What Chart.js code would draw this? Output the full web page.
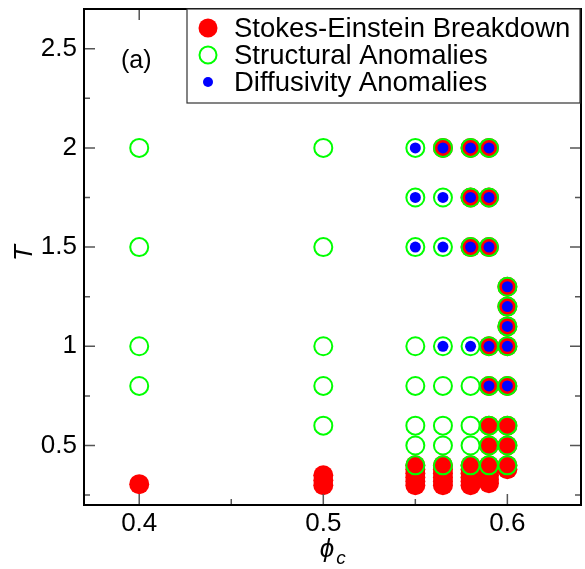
<!DOCTYPE html>
<html lang="en">
<head>
<meta charset="UTF-8">
<title>Anomaly map</title>
<style>
  body { margin: 0; background: #fff; }
  #wrap { width: 585px; height: 569px; }
</style>
</head>
<body>
<div id="wrap"><canvas id="chart"></canvas></div>
<script src="https://cdn.jsdelivr.net/npm/chart.js"></script>
<script>
// Stokes-Einstein breakdown (red filled circles)
const sePhi = [0.4,
  0.5, 0.5, 0.5,
  0.55, 0.55, 0.55, 0.55, 0.55, 0.55,
  0.565, 0.565, 0.565, 0.565, 0.565, 0.565, 0.565,
  0.58, 0.58, 0.58, 0.58, 0.58, 0.58, 0.58, 0.58, 0.58,
  0.59, 0.59, 0.59, 0.59, 0.59, 0.59, 0.59, 0.59, 0.59, 0.59, 0.59, 0.59, 0.59,
  0.6, 0.6, 0.6, 0.6, 0.6, 0.6, 0.6, 0.6, 0.6];
const seT = [0.305,
  0.3, 0.325, 0.35,
  0.3, 0.32, 0.34, 0.36, 0.38, 0.4,
  0.3, 0.32, 0.34, 0.36, 0.38, 0.4, 2.0,
  0.3, 0.32, 0.34, 0.36, 0.38, 0.4, 1.5, 1.75, 2.0,
  0.31, 0.33, 0.35, 0.37, 0.4, 0.5, 0.6, 0.8, 1.0, 1.5, 1.75, 2.0, 0.39,
  0.38, 0.4, 0.5, 0.6, 0.8, 1.0, 1.1, 1.2, 1.3];

// structural anomalies (green open circles)
const saPhi = [0.4, 0.4, 0.4, 0.4,
  0.5, 0.5, 0.5, 0.5, 0.5,
  0.55, 0.55, 0.55, 0.55, 0.55, 0.55, 0.55, 0.55,
  0.565, 0.565, 0.565, 0.565, 0.565, 0.565, 0.565, 0.565,
  0.58, 0.58, 0.58, 0.58, 0.58, 0.58, 0.58, 0.58,
  0.59, 0.59, 0.59, 0.59, 0.59, 0.59, 0.59, 0.59,
  0.6, 0.6, 0.6, 0.6, 0.6, 0.6, 0.6, 0.6];
const saT = [0.8, 1.0, 1.5, 2.0,
  0.6, 0.8, 1.0, 1.5, 2.0,
  0.4, 0.5, 0.6, 0.8, 1.0, 1.5, 1.75, 2.0,
  0.4, 0.5, 0.6, 0.8, 1.0, 1.5, 1.75, 2.0,
  0.4, 0.5, 0.6, 0.8, 1.0, 1.5, 1.75, 2.0,
  0.4, 0.5, 0.6, 0.8, 1.0, 1.5, 1.75, 2.0,
  0.4, 0.5, 0.6, 0.8, 1.0, 1.1, 1.2, 1.3];

// diffusivity anomalies (blue dots)
const daPhi = [0.55, 0.55, 0.55,
  0.565, 0.565, 0.565, 0.565,
  0.58, 0.58, 0.58, 0.58,
  0.59, 0.59, 0.59, 0.59, 0.59,
  0.6, 0.6, 0.6, 0.6, 0.6];
const daT = [1.5, 1.75, 2.0,
  1.0, 1.5, 1.75, 2.0,
  1.0, 1.5, 1.75, 2.0,
  0.8, 1.0, 1.5, 1.75, 2.0,
  0.8, 1.0, 1.1, 1.2, 1.3];

const seriesNames = ['Stokes-Einstein Breakdown', 'Structural Anomalies', 'Diffusivity Anomalies'];
const xTicks = [0.4, 0.5, 0.6];
const xMinor = [0.45, 0.55];
const yTicks = [0.5, 1, 1.5, 2, 2.5];
const yMinor = [0.25, 0.75, 1.25, 1.75, 2.25];

const FONT = 'Liberation Sans, Arial, Helvetica, sans-serif';

function pts(xs, ys) {
  return xs.map((x, i) => ({ x: x, y: ys[i] }));
}

// frame, inward ticks, axis titles, panel label and legend box
const decor = {
  id: 'decor',
  afterDraw(chart) {
    const ctx = chart.ctx;
    const ca = chart.chartArea;
    const xs = chart.scales.x, ys = chart.scales.y;
    ctx.save();

    ctx.strokeStyle = '#555';
    ctx.lineWidth = 1.5;
    const tick = (vals, len) => {
      vals.forEach(v => {
        const px = xs.getPixelForValue(v);
        ctx.beginPath();
        ctx.moveTo(px, ca.bottom); ctx.lineTo(px, ca.bottom - len);
        ctx.moveTo(px, ca.top); ctx.lineTo(px, ca.top + len);
        ctx.stroke();
      });
    };
    const tickY = (vals, len) => {
      vals.forEach(v => {
        const py = ys.getPixelForValue(v);
        ctx.beginPath();
        ctx.moveTo(ca.left, py); ctx.lineTo(ca.left + len, py);
        ctx.moveTo(ca.right, py); ctx.lineTo(ca.right - len, py);
        ctx.stroke();
      });
    };
    tick(xTicks, 11); tick(xMinor, 6);
    tickY(yTicks, 11); tickY(yMinor, 6);

    ctx.strokeStyle = '#000';
    ctx.lineWidth = 2;
    ctx.strokeRect(ca.left, ca.top, ca.right - ca.left, ca.bottom - ca.top);

    // axis titles
    ctx.fillStyle = '#000';
    ctx.textBaseline = 'middle';
    ctx.textAlign = 'center';
    ctx.font = 'italic 26px ' + FONT;
    ctx.fillText('\u03d5', 327, 550);
    ctx.font = 'italic 19px ' + FONT;
    ctx.fillText('c', 341, 559);

    ctx.save();
    ctx.translate(25, 253);
    ctx.rotate(-Math.PI / 2);
    ctx.font = 'italic 26px ' + FONT;
    ctx.fillText('T', 0, 0);
    ctx.restore();

    // panel label
    ctx.font = '25px ' + FONT;
    ctx.textAlign = 'left';
    ctx.fillText('(a)', 121, 61);

    // legend
    const lx = 187, ly = 9, lw = 393, lh = 94;
    ctx.fillStyle = '#fff';
    ctx.fillRect(lx, ly, lw, lh);
    ctx.strokeStyle = '#333';
    ctx.lineWidth = 1.2;
    ctx.strokeRect(lx, ly, lw, lh);
    const rows = [28, 55, 82];
    ctx.fillStyle = '#ff0000';
    ctx.beginPath(); ctx.arc(208, rows[0], 9.5, 0, Math.PI * 2); ctx.fill();
    ctx.strokeStyle = '#00ff00';
    ctx.lineWidth = 2;
    ctx.beginPath(); ctx.arc(208, rows[1], 8.5, 0, Math.PI * 2); ctx.stroke();
    ctx.fillStyle = '#0000ff';
    ctx.beginPath(); ctx.arc(208, rows[2], 5, 0, Math.PI * 2); ctx.fill();

    ctx.fillStyle = '#000';
    ctx.font = '27.5px ' + FONT;
    seriesNames.forEach((n, i) => ctx.fillText(n, 234, rows[i] + 1));

    ctx.restore();
  }
};

new Chart(document.getElementById('chart'), {
  type: 'scatter',
  data: {
    datasets: [
      {
        label: seriesNames[0],
        data: pts(sePhi, seT),
        pointRadius: 10,
        pointHoverRadius: 10,
        backgroundColor: '#ff0000',
        borderWidth: 0,
        order: 3
      },
      {
        label: seriesNames[1],
        data: pts(saPhi, saT),
        pointRadius: 9,
        pointHoverRadius: 9,
        backgroundColor: 'rgba(0,0,0,0)',
        borderColor: '#00ff00',
        borderWidth: 2,
        order: 2
      },
      {
        label: seriesNames[2],
        data: pts(daPhi, daT),
        pointRadius: 5.5,
        pointHoverRadius: 5.5,
        backgroundColor: '#0000ff',
        borderWidth: 0,
        order: 1
      }
    ]
  },
  options: {
    responsive: true,
    maintainAspectRatio: false,
    animation: false,
    events: [],
    layout: { autoPadding: false, padding: { top: 9, right: 4, left: 0, bottom: 0 } },
    plugins: {
      legend: { display: false },
      tooltip: { enabled: false }
    },
    scales: {
      x: {
        type: 'linear',
        min: 0.37,
        max: 0.64,
        grid: { display: false, drawTicks: false },
        border: { display: false },
        ticks: {
          color: '#000',
          font: { family: FONT, size: 26 },
          padding: 3,
          callback: v => String(v)
        },
        afterBuildTicks: s => { s.ticks = xTicks.map(v => ({ value: v })); },
        afterFit: s => { s.height = 64; s.paddingLeft = 0; s.paddingRight = 0; }
      },
      y: {
        type: 'linear',
        min: 0.2,
        max: 2.7,
        grid: { display: false, drawTicks: false },
        border: { display: false },
        ticks: {
          color: '#000',
          font: { family: FONT, size: 26 },
          padding: 7,
          callback: v => String(v)
        },
        afterBuildTicks: s => { s.ticks = yTicks.map(v => ({ value: v })); },
        afterFit: s => { s.width = 84; s.paddingTop = 0; s.paddingBottom = 0; }
      }
    }
  },
  plugins: [decor]
});
</script>
</body>
</html>
